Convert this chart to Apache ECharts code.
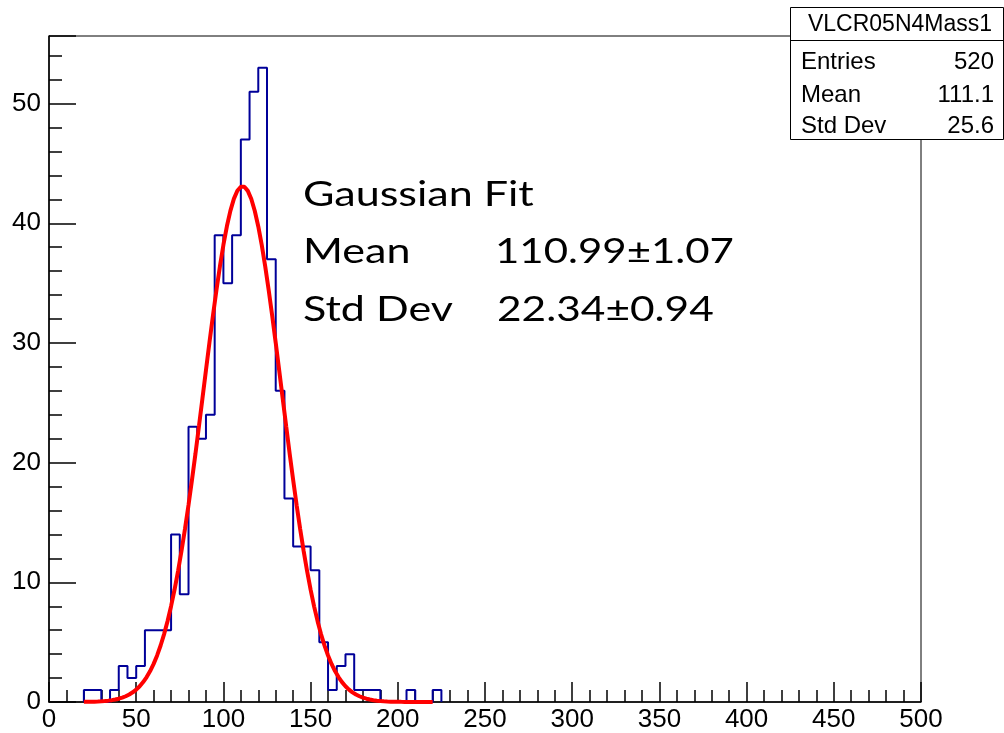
<!DOCTYPE html>
<html>
<head>
<meta charset="utf-8">
<script src="https://cdn.jsdelivr.net/npm/echarts@6/dist/echarts.min.js"></script>
<style>html,body{margin:0;padding:0;background:#fff;}#c{width:1004px;height:733px;}</style>
</head>
<body>
<div id="c"></div>
<script>
// Histogram bins (5-unit wide), starting at 20
const binStart = 20;
const binWidth = 5;
const counts = [1,1,0,1,3,2,3,6,6,6, 14,9,23,22,24,39,35,39,47,51, 53,37,26,17,13,13,11,5,1,3, 4,1,1,1,0,0,0,1,0,0, 1];
// Gaussian fit parameters
const fitConstant = 43.1;
const fitMean = 110.99;
const fitSigma = 22.34;
const fitRange = [20, 220];
// Axis ticks
const xTicks = [0,50,100,150,200,250,300,350,400,450,500];
const yTicks = [0,10,20,30,40,50];
// Stats box
const statsTitle = 'VLCR05N4Mass1';
const statsLabels = ['Entries','Mean','Std Dev'];
const statsValues = ['520','111.1','25.6'];
// Annotation
const annLines = [['Gaussian Fit',''],['Mean','110.99±1.07'],['Std Dev','22.34±0.94']];

// build step outline
const histData = [[binStart, 0]];
counts.forEach((c, i) => histData.push([binStart + i * binWidth, c]));
histData.push([binStart + counts.length * binWidth, 0]);

const fitData = [];
for (let x = fitRange[0]; x <= fitRange[1] + 1e-9; x += 2) {
  fitData.push([x, fitConstant * Math.exp(-0.5 * Math.pow((x - fitMean) / fitSigma, 2))]);
}

const chart = echarts.init(document.getElementById('c'), null, {renderer: 'canvas'});
const axisFont = {fontFamily: 'Liberation Sans', fontSize: 26, color: '#000'};
const graphics = [];
// annotation
const annY = [195, 252, 310];
const annScale = 1.23;
annLines.forEach((l, i) => {
  graphics.push({type: 'text', z: 100, x: 303, y: annY[i], scaleX: annScale, style: {text: l[0], x: 0, y: 0, fill: '#000', font: '35px Lato', textVerticalAlign: 'middle'}});
  if (l[1]) graphics.push({type: 'text', z: 100, x: i === 1 ? 495 : 497, y: annY[i], scaleX: annScale * (i === 1 ? 0.975 : 0.985), style: {text: l[1], x: 0, y: 0, fill: '#000', font: '35px Lato', textVerticalAlign: 'middle'}});
});
// stats box
graphics.push({type: 'rect', z: 100, shape: {x: 790.5, y: 7.5, width: 213, height: 132}, style: {fill: '#fff', stroke: '#000', lineWidth: 1}});
graphics.push({type: 'line', z: 101, shape: {x1: 790.5, y1: 40.5, x2: 1003.5, y2: 40.5}, style: {stroke: '#000', lineWidth: 1}});
graphics.push({type: 'text', z: 101, style: {text: statsTitle, x: 900, y: 25, fill: '#000', font: '23px Liberation Sans', textAlign: 'center', textVerticalAlign: 'middle'}});
const rowY = [62, 95, 126];
statsLabels.forEach((s, i) => {
  graphics.push({type: 'text', z: 101, style: {text: s, x: 801, y: rowY[i], fill: '#000', font: '24px Liberation Sans', textVerticalAlign: 'middle'}});
  graphics.push({type: 'text', z: 101, style: {text: statsValues[i], x: 994, y: rowY[i], fill: '#000', font: '24px Liberation Sans', textAlign: 'right', textVerticalAlign: 'middle'}});
});

chart.setOption({
  animation: false,
  backgroundColor: '#fff',
  grid: {left: 49, right: 83, top: 36, bottom: 31, show: true, borderColor: '#000', borderWidth: 1, backgroundColor: 'transparent'},
  xAxis: {
    type: 'value', min: xTicks[0], max: xTicks[xTicks.length - 1], interval: 50,
    axisLine: {show: true, lineStyle: {color: '#000', width: 1.5}},
    axisTick: {show: true, inside: true, length: 20, lineStyle: {color: '#000', width: 1.5}},
    minorTick: {show: true, splitNumber: 5, length: 12, lineStyle: {color: '#000', width: 1.5}},
    splitLine: {show: false},
    axisLabel: Object.assign({margin: 5}, axisFont)
  },
  yAxis: {
    type: 'value', min: yTicks[0], max: 55.65, interval: 10,
    axisLine: {show: true, lineStyle: {color: '#000', width: 1.5}},
    axisTick: {show: true, inside: true, length: 27, lineStyle: {color: '#000', width: 1.5}},
    minorTick: {show: true, splitNumber: 5, length: 13, lineStyle: {color: '#000', width: 1.5}},
    splitLine: {show: false},
    axisLabel: Object.assign({margin: 8, showMaxLabel: false}, axisFont)
  },
  series: [
    {type: 'line', data: histData, step: 'end', symbol: 'none', lineStyle: {color: '#000099', width: 2}, z: 2},
    {type: 'line', data: fitData, symbol: 'none', smooth: false, lineStyle: {color: '#ff0000', width: 4}, z: 3}
  ],
  graphic: graphics
});
</script>
</body>
</html>
